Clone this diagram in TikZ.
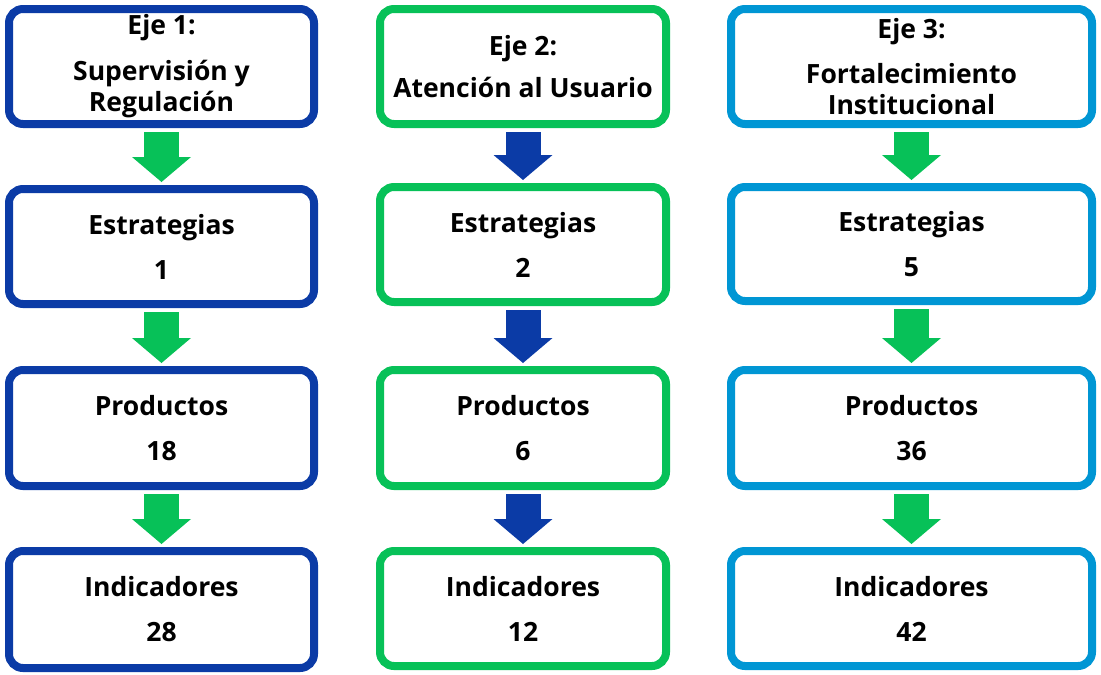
\documentclass[tikz,border=0pt]{standalone}
\usepackage{fontspec}
\setmainfont{Open Sans}
\usetikzlibrary{arrows.meta,shadows}
\definecolor{cblue}{HTML}{0B3BA6}
\definecolor{cgreen}{HTML}{07C158}
\definecolor{clight}{HTML}{0096D4}
\tikzset{
  box/.style={draw, line width=8pt, rounded corners=14pt, fill=white,
    align=center, font=\bfseries\fontsize{26.5}{31}\selectfont, inner sep=0pt,
    drop shadow={shadow xshift=1.5pt, shadow yshift=-3pt, opacity=0.22}},
  c1/.style={box, draw=cblue, minimum width=305pt},
  c2/.style={box, draw=cgreen, minimum width=286pt},
  c3/.style={box, draw=clight, minimum width=361pt},
  flow/.style={line width=35pt, -{Triangle[width=59pt,length=25pt,line width=0pt]},
    shorten <=4pt, shorten >=3pt}
}
\begin{document}
\begin{tikzpicture}[x=1pt,y=-1pt]
\useasboundingbox (0,0) rectangle (1101,675);
% column 1
\node[c1, minimum height=115pt] (a1) at (161.5,66.5) {Eje 1:\\[15pt]Supervisión y\\Regulación};
\node[c1, minimum height=115pt] (a2) at (161.5,246.5) {Estrategias\\[14pt]1};
\node[c1, minimum height=116pt] (a3) at (161.5,428) {Productos\\[14pt]18};
\node[c1, minimum height=117pt] (a4) at (161.5,609.5) {Indicadores\\[14pt]28};
% column 2
\node[c2, minimum height=115pt] (b1) at (523,66.5) {Eje 2:\\[11pt]Atención al Usuario};
\node[c2, minimum height=115pt] (b2) at (523,244.5) {Estrategias\\[14pt]2};
\node[c2, minimum height=116pt] (b3) at (523,428) {Productos\\[14pt]6};
\node[c2, minimum height=115pt] (b4) at (523,608.5) {Indicadores\\[14pt]12};
% column 3
\node[c3, minimum height=115pt] (d1) at (911.5,66.5) {Eje 3:\\[14pt]Fortalecimiento\\Institucional};
\node[c3, minimum height=114pt] (d2) at (911.5,244) {Estrategias\\[14pt]5};
\node[c3, minimum height=116pt] (d3) at (911.5,428) {Productos\\[14pt]36};
\node[c3, minimum height=115pt] (d4) at (911.5,608.5) {Indicadores\\[14pt]42};
% arrows
\draw[flow, cgreen] (a1) -- (a2);
\draw[flow, cgreen] (a2) -- (a3);
\draw[flow, cgreen] (a3) -- (a4);
\draw[flow, cblue] (b1) -- (b2);
\draw[flow, cblue] (b2) -- (b3);
\draw[flow, cblue] (b3) -- (b4);
\draw[flow, cgreen] (d1) -- (d2);
\draw[flow, cgreen] (d2) -- (d3);
\draw[flow, cgreen] (d3) -- (d4);
\end{tikzpicture}
\end{document}
